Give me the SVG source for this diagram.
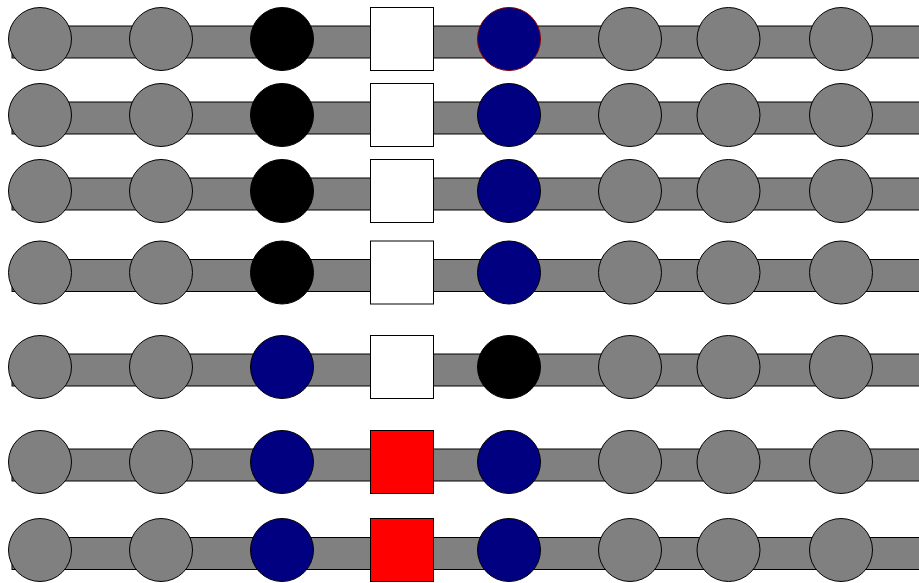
<svg xmlns="http://www.w3.org/2000/svg" width="919" height="583" viewBox="0 0 919 583">
<style>
.bar{fill:#808080;stroke:#000;stroke-width:1}
.g{fill:#808080;stroke:#000;stroke-width:1}
.k{fill:#000;stroke:#000;stroke-width:1}
.n{fill:#000080;stroke:#000;stroke-width:1}
.w{fill:#fff;stroke:#000;stroke-width:1}
.r{fill:#ff0000;stroke:#000;stroke-width:1}
</style>
<defs>
<circle id="c" r="31.5"/>
</defs>
<g id="connectors">
<rect class="bar" x="12" y="26" width="920" height="32"/>
<rect class="bar" x="12" y="102" width="920" height="32"/>
<rect class="bar" x="12" y="178" width="920" height="32"/>
<rect class="bar" x="12" y="259.5" width="920" height="32"/>
<rect class="bar" x="12" y="354" width="920" height="32"/>
<rect class="bar" x="12" y="449" width="920" height="32"/>
<rect class="bar" x="12" y="537.5" width="920" height="32"/>
</g>
<g id="row1">
<circle id="r1c1" class="g" cx="40" cy="39" r="31.5"/>
<circle id="r1c2" class="g" cx="161" cy="39" r="31.5"/>
<circle id="r1c3" class="k" cx="282" cy="39" r="31.5"/>
<rect id="r1s" class="w" x="370.5" y="7.5" width="63" height="63"/>
<circle id="r1c5" cx="509" cy="39" r="31.5" fill="#000080" stroke="#800000"/>
<circle id="r1c6" class="g" cx="630" cy="39" r="31.5"/>
<circle id="r1c7" class="g" cx="728.5" cy="39" r="31.5"/>
<circle id="r1c8" class="g" cx="841" cy="39" r="31.5"/>
</g>
<g id="row2">
<circle id="r2c1" class="g" cx="40" cy="115" r="31.5"/>
<circle id="r2c2" class="g" cx="161" cy="115" r="31.5"/>
<circle id="r2c3" class="k" cx="282" cy="115" r="31.5"/>
<rect id="r2s" class="w" x="370.5" y="83.5" width="63" height="63"/>
<circle id="r2c5" class="n" cx="509" cy="115" r="31.5"/>
<circle id="r2c6" class="g" cx="630" cy="115" r="31.5"/>
<circle id="r2c7" class="g" cx="728.5" cy="115" r="31.5"/>
<circle id="r2c8" class="g" cx="841" cy="115" r="31.5"/>
</g>
<g id="row3">
<circle id="r3c1" class="g" cx="40" cy="191" r="31.5"/>
<circle id="r3c2" class="g" cx="161" cy="191" r="31.5"/>
<circle id="r3c3" class="k" cx="282" cy="191" r="31.5"/>
<rect id="r3s" class="w" x="370.5" y="159.5" width="63" height="63"/>
<circle id="r3c5" class="n" cx="509" cy="191" r="31.5"/>
<circle id="r3c6" class="g" cx="630" cy="191" r="31.5"/>
<circle id="r3c7" class="g" cx="728.5" cy="191" r="31.5"/>
<circle id="r3c8" class="g" cx="841" cy="191" r="31.5"/>
</g>
<g id="row4">
<circle id="r4c1" class="g" cx="40" cy="272.5" r="31.5"/>
<circle id="r4c2" class="g" cx="161" cy="272.5" r="31.5"/>
<circle id="r4c3" class="k" cx="282" cy="272.5" r="31.5"/>
<rect id="r4s" class="w" x="370.5" y="241" width="63" height="63"/>
<circle id="r4c5" class="n" cx="509" cy="272.5" r="31.5"/>
<circle id="r4c6" class="g" cx="630" cy="272.5" r="31.5"/>
<circle id="r4c7" class="g" cx="728.5" cy="272.5" r="31.5"/>
<circle id="r4c8" class="g" cx="841" cy="272.5" r="31.5"/>
</g>
<g id="row5">
<circle id="r5c1" class="g" cx="40" cy="367" r="31.5"/>
<circle id="r5c2" class="g" cx="161" cy="367" r="31.5"/>
<circle id="r5c3" class="n" cx="282" cy="367" r="31.5"/>
<rect id="r5s" class="w" x="370.5" y="335.5" width="63" height="63"/>
<circle id="r5c5" class="k" cx="509" cy="367" r="31.5"/>
<circle id="r5c6" class="g" cx="630" cy="367" r="31.5"/>
<circle id="r5c7" class="g" cx="728.5" cy="367" r="31.5"/>
<circle id="r5c8" class="g" cx="841" cy="367" r="31.5"/>
</g>
<g id="row6">
<circle id="r6c1" class="g" cx="40" cy="462" r="31.5"/>
<circle id="r6c2" class="g" cx="161" cy="462" r="31.5"/>
<circle id="r6c3" class="n" cx="282" cy="462" r="31.5"/>
<rect id="r6s" class="r" x="370.5" y="430.5" width="63" height="63"/>
<circle id="r6c5" class="n" cx="509" cy="462" r="31.5"/>
<circle id="r6c6" class="g" cx="630" cy="462" r="31.5"/>
<circle id="r6c7" class="g" cx="728.5" cy="462" r="31.5"/>
<circle id="r6c8" class="g" cx="841" cy="462" r="31.5"/>
</g>
<g id="row7">
<circle id="r7c1" class="g" cx="40" cy="550" r="31.5"/>
<circle id="r7c2" class="g" cx="161" cy="550" r="31.5"/>
<circle id="r7c3" class="n" cx="282" cy="550" r="31.5"/>
<rect id="r7s" class="r" x="370.5" y="518.5" width="63" height="63"/>
<circle id="r7c5" class="n" cx="509" cy="550" r="31.5"/>
<circle id="r7c6" class="g" cx="630" cy="550" r="31.5"/>
<circle id="r7c7" class="g" cx="728.5" cy="550" r="31.5"/>
<circle id="r7c8" class="g" cx="841" cy="550" r="31.5"/>
</g>
</svg>
